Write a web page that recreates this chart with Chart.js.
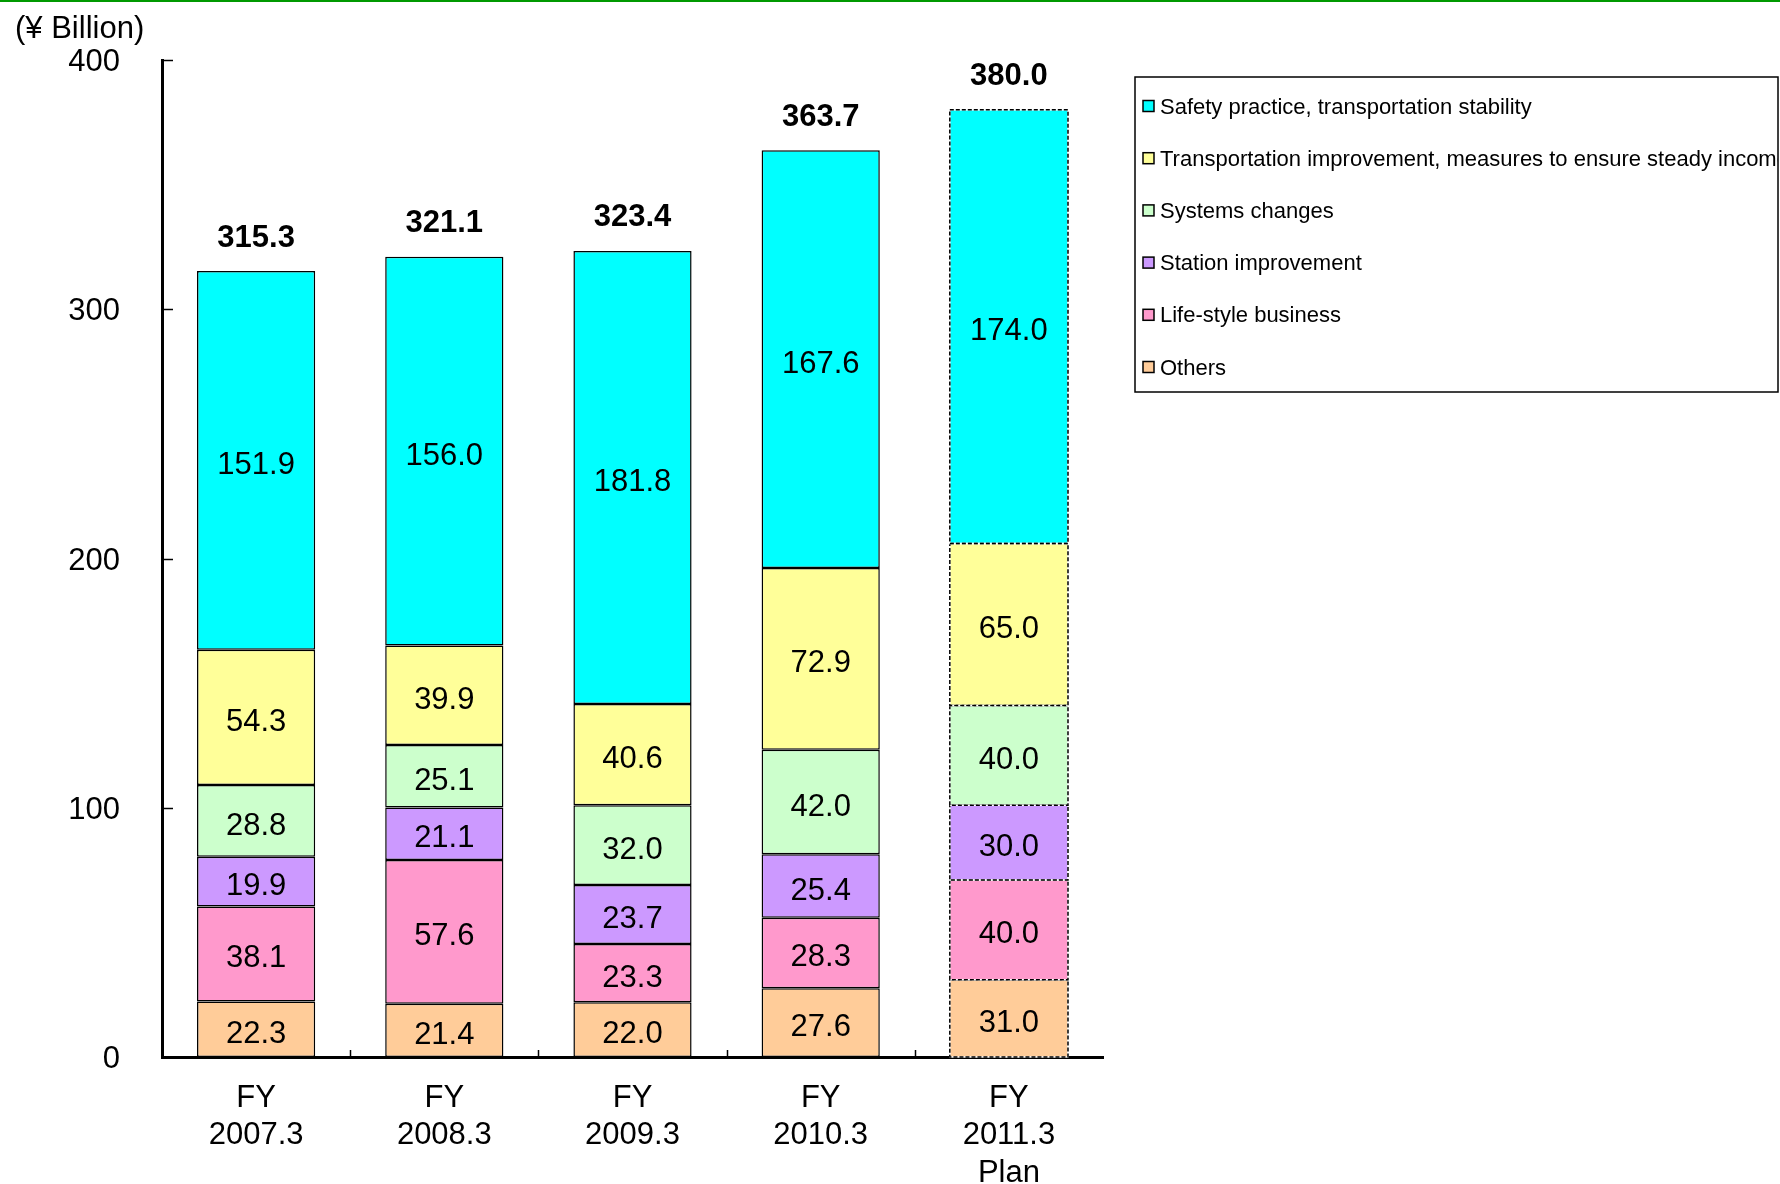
<!DOCTYPE html>
<html>
<head>
<meta charset="utf-8">
<style>
  html, body { margin: 0; padding: 0; background: #fff; }
  #wrap { width: 1780px; height: 1184px; position: relative; }
</style>
<script src="https://cdn.jsdelivr.net/npm/chart.js@4.4.0/dist/chart.umd.min.js"></script>
</head>
<body>
<div id="wrap"><canvas id="c" width="1780" height="1184"></canvas></div>
<script>
// ---- data ----
const categories = [["FY", "2007.3"], ["FY", "2008.3"], ["FY", "2009.3"], ["FY", "2010.3"], ["FY", "2011.3", "Plan"]];
const others         = [22.3, 21.4, 22.0, 27.6, 31.0];
const lifestyle      = [38.1, 57.6, 23.3, 28.3, 40.0];
const station        = [19.9, 21.1, 23.7, 25.4, 30.0];
const systems        = [28.8, 25.1, 32.0, 42.0, 40.0];
const transportation = [54.3, 39.9, 40.6, 72.9, 65.0];
const safety         = [151.9, 156.0, 181.8, 167.6, 174.0];
const totals         = [315.3, 321.1, 323.4, 363.7, 380.0];
const yTicks = [0, 100, 200, 300, 400];
const planIndex = 4;

const FONT = "'Liberation Sans', Arial, Helvetica, sans-serif";

const seriesDefs = [
  { label: "Others", data: others, color: "#FFCC99" },
  { label: "Life-style business", data: lifestyle, color: "#FF99CC" },
  { label: "Station improvement", data: station, color: "#CC99FF" },
  { label: "Systems changes", data: systems, color: "#CCFFCC" },
  { label: "Transportation improvement, measures to ensure steady income", data: transportation, color: "#FFFF99" },
  { label: "Safety practice, transportation stability", data: safety, color: "#00FFFF" }
];

const datasets = seriesDefs.map(s => ({
  label: s.label,
  data: s.data,
  backgroundColor: s.color,
  borderColor: "#000",
  borderWidth: (ctx) => ctx.dataIndex === planIndex ? 0 : 1.5,
  borderSkipped: false,
  categoryPercentage: 1.0,
  barPercentage: 0.628
}));

const decoPlugin = {
  id: "deco",
  beforeDraw(chart) {
    const ctx = chart.ctx;
    ctx.save();
    ctx.fillStyle = "#fff";
    ctx.fillRect(0, 0, chart.width, chart.height);
    ctx.fillStyle = "#009900";
    ctx.fillRect(0, 0, chart.width, 2);
    // unit label
    ctx.fillStyle = "#000";
    ctx.font = "31px " + FONT;
    ctx.textAlign = "left";
    ctx.textBaseline = "middle";
    ctx.fillText("(\u00A5 Billion)", 15, 29);
    ctx.restore();
  },
  afterDatasetsDraw(chart) {
    const ctx = chart.ctx;
    ctx.save();
    // dashed borders for plan bar
    chart.data.datasets.forEach((ds, di) => {
      const el = chart.getDatasetMeta(di).data[planIndex];
      const l = el.x - el.width / 2, r = el.x + el.width / 2;
      const t = Math.min(el.y, el.base), b = Math.max(el.y, el.base);
      ctx.lineWidth = 1.5;
      ctx.setLineDash([]);
      ctx.strokeStyle = "#ffffff";
      ctx.strokeRect(l, t, r - l, b - t);
      ctx.setLineDash([4, 2]);
      ctx.strokeStyle = "#000";
      ctx.strokeRect(l, t, r - l, b - t);
    });
    ctx.setLineDash([]);
    // inner ticks and y tick labels
    const ys = chart.scales.y, xs = chart.scales.x;
    const area = chart.chartArea;
    ctx.strokeStyle = "#000";
    ctx.lineWidth = 1.5;
    ctx.fillStyle = "#000";
    ctx.font = "31px " + FONT;
    ctx.textAlign = "right";
    ctx.textBaseline = "middle";
    yTicks.forEach(v => {
      const py = Math.round(ys.getPixelForValue(v)) + 0.5;
      ctx.beginPath();
      ctx.moveTo(area.left, py);
      ctx.lineTo(area.left + 11, py);
      ctx.stroke();
      ctx.fillText(String(v), area.left - 42, py + 2);
    });
    for (let i = 0; i < categories.length - 1; i++) {
      const px = Math.round((xs.getPixelForValue(i) + xs.getPixelForValue(i + 1)) / 2) + 0.5;
      ctx.beginPath();
      ctx.moveTo(px, area.bottom);
      ctx.lineTo(px, area.bottom - 7);
      ctx.stroke();
    }
    // value labels
    ctx.textAlign = "center";
    ctx.font = "31px " + FONT;
    chart.data.datasets.forEach((ds, di) => {
      chart.getDatasetMeta(di).data.forEach((el, i) => {
        ctx.fillText(ds.data[i].toFixed(1), el.x, (el.y + el.base) / 2 + 5);
      });
    });
    // totals
    ctx.font = "bold 31px " + FONT;
    const topMeta = chart.getDatasetMeta(chart.data.datasets.length - 1);
    topMeta.data.forEach((el, i) => {
      ctx.fillText(totals[i].toFixed(1), el.x, el.y - 33);
    });
    // legend
    const lx = 1135, ly = 77, lw = 643, lh = 315;
    ctx.lineWidth = 1.5;
    ctx.strokeStyle = "#000";
    ctx.strokeRect(lx, ly, lw, lh);
    ctx.save();
    ctx.beginPath();
    ctx.rect(lx, ly, lw, lh);
    ctx.clip();
    ctx.font = "22px " + FONT;
    ctx.textAlign = "left";
    const n = chart.data.datasets.length;
    for (let k = 0; k < n; k++) {
      const ds = chart.data.datasets[n - 1 - k];
      const cy = 106.5 + k * 52.2;
      ctx.fillStyle = ds.backgroundColor;
      ctx.fillRect(1143, cy - 6, 11, 11);
      ctx.lineWidth = 1.5;
      ctx.strokeStyle = "#000";
      ctx.strokeRect(1143, cy - 6, 11, 11);
      ctx.fillStyle = "#000";
      ctx.fillText(ds.label, 1160, cy + 1);
    }
    ctx.restore();
    ctx.restore();
  }
};

new Chart(document.getElementById("c"), {
  type: "bar",
  data: { labels: categories, datasets },
  options: {
    responsive: false,
    devicePixelRatio: 1,
    animation: false,
    layout: { padding: { top: 60, right: 677, bottom: 0, left: 0 } },
    plugins: { legend: { display: false }, tooltip: { enabled: false }, title: { display: false } },
    scales: {
      x: {
        stacked: true,
        grid: { display: false, drawTicks: false },
        border: { display: true, color: "#000", width: 3 },
        ticks: { color: "#000", font: { family: FONT, size: 31, lineHeight: 1.2 }, padding: 23, maxRotation: 0, autoSkip: false },
        afterFit(s) { s.height = 127; }
      },
      y: {
        stacked: true,
        min: 0, max: 400,
        afterBuildTicks(s) { s.ticks = yTicks.map(v => ({ value: v })); },
        grid: { display: false, drawTicks: false },
        border: { display: true, color: "#000", width: 3 },
        ticks: { display: false },
        afterFit(s) { s.width = 162; }
      }
    }
  },
  plugins: [decoPlugin]
});
</script>
</body>
</html>
